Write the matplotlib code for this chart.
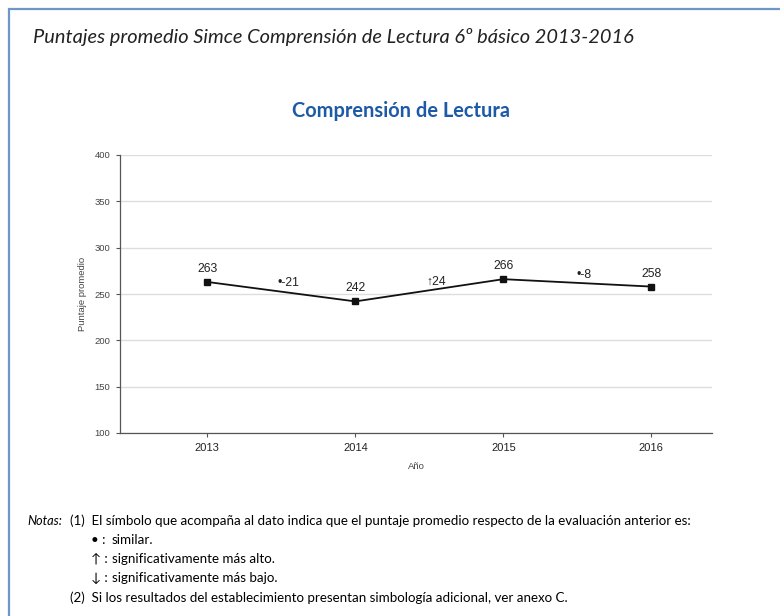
import matplotlib
matplotlib.use("Agg")
import matplotlib.pyplot as plt
from matplotlib.patches import Rectangle

# data
years = [2013, 2014, 2015, 2016]
scores = [263, 242, 266, 258]
mid_years = [2013.5, 2014.5, 2015.5]
changes = ["-21", "24", "-8"]
symbols = ["\u2022", "\u2191", "\u2022"]
yticks = [100, 150, 200, 250, 300, 350, 400]

W, H = 780, 616
fig = plt.figure(figsize=(W / 100, H / 100), dpi=100)
fig.patch.set_facecolor("white")

# outer frame (left and top edges only visible)
fig.add_artist(Rectangle((9 / W, -0.1), 1.2, 1.1 - 9 / H, transform=fig.transFigure,
                         fill=False, edgecolor="#6f96c8", linewidth=1.6))

notefont = ["Lato", "DejaVu Sans"]
fig.text(33 / W, 1 - 37 / H, "Puntajes promedio Simce Comprensión de Lectura 6º básico 2013-2016",
         fontsize=14.4, style="italic", family=notefont, color="#222222", va="center")
fig.text(401 / W, 1 - 111 / H, "Comprensión de Lectura", fontsize=14.4, fontweight="bold",
         family=notefont, color="#1d5aa6", ha="center", va="center")

ax = fig.add_axes([120 / W, 1 - 433 / H, (712 - 120) / W, (433 - 155) / H])
ax.plot(years, scores, color="#111111", linewidth=1.3, marker="s", markersize=4, zorder=3)
for x, y in zip(years, scores):
    ax.annotate(str(y), (x, y), xytext=(0, 5), textcoords="offset points",
                ha="center", va="bottom", fontsize=8.8, family="Liberation Sans", color="#222222")
for i, (x, sym, chg) in enumerate(zip(mid_years, symbols, changes)):
    ymid = (scores[i] + scores[i + 1]) / 2
    ax.annotate(sym + chg, (x, ymid), xytext=(5, 6), textcoords="offset points",
                ha="center", va="center", fontsize=8.8, family=["Liberation Sans", "DejaVu Sans"],
                color="#222222")

ax.set_xlim(2012.41, 2016.41)
ax.set_ylim(100, 400)
ax.set_xticks(years)
ax.set_xticklabels([str(y) for y in years], fontsize=8, family="Liberation Sans", color="#222222")
ax.set_yticks(yticks)
ax.set_yticklabels([str(v) for v in yticks], fontsize=6.8, family="Liberation Sans", color="#444444")
ax.grid(axis="y", color="#dddddd", linewidth=1)
ax.set_axisbelow(True)
for s in ["top", "right"]:
    ax.spines[s].set_visible(False)
for s in ["left", "bottom"]:
    ax.spines[s].set_color("#555555")
    ax.spines[s].set_linewidth(0.9)
ax.tick_params(axis="both", length=3, width=0.8, color="#555555", pad=4)
ax.set_xlabel("Año", fontsize=6.8, family="Liberation Sans", color="#444444", labelpad=7)
ax.set_ylabel("Puntaje promedio", fontsize=6.8, family="Liberation Sans", color="#444444", labelpad=5)

# notes
nf = 9.6
fig.text(27 / W, 1 - 521 / H, "Notas:", fontsize=nf - 0.4, style="italic", family=notefont, va="center")
fig.text(70 / W, 1 - 521 / H, "(1)  El símbolo que acompaña al dato indica que el puntaje promedio respecto de la evaluación anterior es:",
         fontsize=nf, family=notefont, va="center")
legend_rows = [("\u2022", "similar."), ("\u2191", "significativamente más alto."),
               ("\u2193", "significativamente más bajo.")]
for k, (sym, txt) in enumerate(legend_rows):
    yy = 1 - (540 + k * 19) / H
    fig.text(91 / W, yy, sym + " :", fontsize=nf, family=notefont, va="center")
    fig.text(112 / W, yy, txt, fontsize=nf, family=notefont, va="center")
fig.text(70 / W, 1 - 598 / H, "(2)  Si los resultados del establecimiento presentan simbología adicional, ver anexo C.",
         fontsize=nf, family=notefont, va="center")

fig.savefig("out.png", dpi=100)
